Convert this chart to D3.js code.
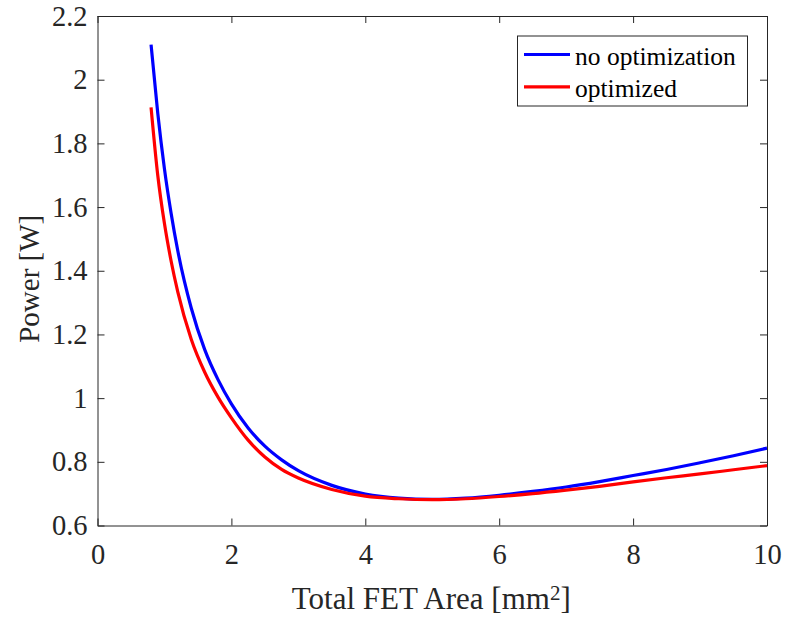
<!DOCTYPE html>
<html><head><meta charset="utf-8">
<script src="https://cdn.jsdelivr.net/npm/d3@7"></script>
<style>body{margin:0;background:#fff}svg{display:block}</style>
</head><body>
<svg id="chart" width="786" height="622"></svg>
<script>
const area  = [0.8,0.9,1.0,1.1,1.2,1.4,1.6,1.8,2.0,2.25,2.5,2.75,3.0,3.5,4.0,4.5,5.0,5.5,6.0,6.5,7.0,7.5,8.0,8.5,9.0,9.5,10];
const noOpt = [2.11,1.895,1.72,1.58,1.462,1.283,1.153,1.058,0.982,0.906,0.849,0.806,0.772,0.726,0.699,0.686,0.682,0.686,0.695,0.707,0.721,0.738,0.757,0.776,0.797,0.819,0.843];
const opt   = [1.913,1.70,1.548,1.43,1.333,1.185,1.082,1.003,0.938,0.868,0.815,0.776,0.749,0.713,0.692,0.684,0.681,0.684,0.691,0.700,0.711,0.723,0.737,0.750,0.762,0.775,0.788];
const seriesNames = ["no optimization","optimized"];
const seriesColors = ["#0000ff","#ff0000"];
const xTicks = [0,2,4,6,8,10];
const yTicks = [0.6,0.8,1,1.2,1.4,1.6,1.8,2,2.2];

const svg = d3.select("#chart");
const L=97.5, R=767, T=16, B=525.5;
const x = d3.scaleLinear().domain([0,10]).range([L,R]);
const y = d3.scaleLinear().domain([0.6,2.2]).range([B,T]);
const axisColor = "#262626";
const font = "'Liberation Serif', 'Times New Roman', serif";

const plot = svg.append("g");
const line = d3.line().x(d=>x(d[0])).y(d=>y(d[1])).curve(d3.curveMonotoneX);
[noOpt, opt].forEach((vals,i)=>{
  plot.append("path").datum(area.map((a,j)=>[a,vals[j]]))
    .attr("d",line).attr("fill","none").attr("stroke",seriesColors[i]).attr("stroke-width",3.2);
});

function styleAxis(g){
  g.attr("font-family",font).attr("font-size",28.5);
  g.select(".domain").attr("stroke",axisColor).attr("stroke-width",1);
  g.selectAll(".tick line").attr("stroke",axisColor);
  g.selectAll(".tick text").attr("fill",axisColor).style("font-family",font).style("font-size","28.5px");
}
const fmt = d=>String(d);
svg.append("g").attr("transform",`translate(0,${B})`)
  .call(d3.axisBottom(x).tickValues(xTicks).tickFormat(fmt).tickSizeInner(-7).tickSizeOuter(0).tickPadding(18))
  .call(styleAxis);
svg.append("g").attr("transform",`translate(0,${T})`)
  .call(d3.axisTop(x).tickValues(xTicks).tickFormat("").tickSizeInner(-7).tickSizeOuter(0))
  .call(styleAxis);
svg.append("g").attr("transform",`translate(${L},0)`)
  .call(d3.axisLeft(y).tickValues(yTicks).tickFormat(fmt).tickSizeInner(-7).tickSizeOuter(0).tickPadding(10))
  .call(styleAxis);
svg.append("g").attr("transform",`translate(${R},0)`)
  .call(d3.axisRight(y).tickValues(yTicks).tickFormat("").tickSizeInner(-7).tickSizeOuter(0))
  .call(styleAxis);

svg.append("text").attr("x",(L+R)/2 - 1).attr("y",609).attr("text-anchor","middle")
  .attr("fill",axisColor).attr("font-family",font).attr("font-size",31)
  .html('Total FET Area [mm<tspan dy="-9" font-size="21">2</tspan><tspan dy="9">]</tspan>');
svg.append("text").attr("transform",`translate(39,${(T+B)/2 + 8}) rotate(-90)`).attr("text-anchor","middle")
  .attr("fill",axisColor).attr("font-family",font).attr("font-size",29).text("Power [W]");

const lg = svg.append("g");
lg.append("rect").attr("x",517.5).attr("y",36).attr("width",230).attr("height",70)
  .attr("fill","#fff").attr("stroke",axisColor).attr("stroke-width",1);
seriesNames.forEach((n,i)=>{
  const yy = 54.5 + i*32.3;
  lg.append("line").attr("x1",524).attr("x2",570).attr("y1",yy).attr("y2",yy)
    .attr("stroke",seriesColors[i]).attr("stroke-width",3.2);
  lg.append("text").attr("x",575).attr("y",yy+10).attr("fill","#000")
    .attr("font-family",font).attr("font-size",25.5).text(n);
});
</script>
</body></html>
